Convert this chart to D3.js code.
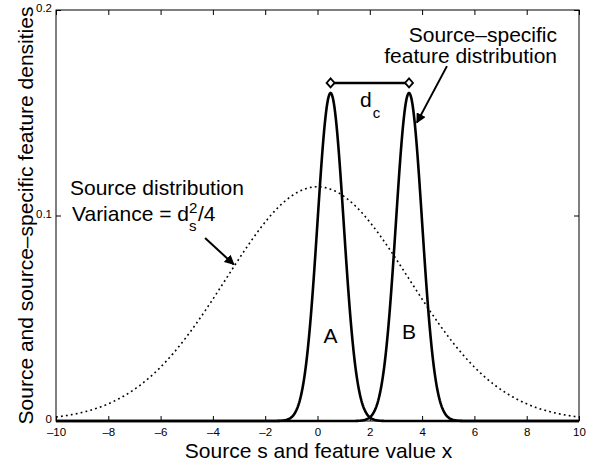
<!DOCTYPE html>
<html>
<head>
<meta charset="utf-8">
<script src="https://cdn.jsdelivr.net/npm/d3@7"></script>
<style>
  body { margin: 0; background: #fff; }
  text { font-family: "Liberation Sans", Arial, Helvetica, sans-serif; fill: #000; }
  .tick text { font-size: 11.5px; }
</style>
</head>
<body>
<div id="chart"></div>
<script>
// axis ranges and ticks
const xDomain = [-10, 10];
const yDomain = [0, 0.2];
const xTicks = [-10, -8, -6, -4, -2, 0, 2, 4, 6, 8, 10];
const yTicks = [0, 0.1, 0.2];

// source distribution (mean, sd)
const sourceMean = [0];
const sourceSd = [3.5];

// source-specific feature distributions A and B
const featureNames = ["A", "B"];
const featureMeans = [0.5, 3.5];
const featureSds = [0.5, 0.5];
const featureWeight = [0.2, 0.2];

const width = 607,
  height = 466;
const plot = { left: 56, right: 579, top: 10, bottom: 421 };

const svg = d3
  .select("#chart")
  .append("svg")
  .attr("width", width)
  .attr("height", height);

const x = d3.scaleLinear().domain(xDomain).range([plot.left, plot.right]);
const y = d3.scaleLinear().domain(yDomain).range([plot.bottom, plot.top]);

const dash = (v) => String(v).replace("-", "\u2013");

// sample grid for the density curves
const grid = d3.range(0, 801).map((i) => xDomain[0] + (i * (xDomain[1] - xDomain[0])) / 800);
const normal = (v, m, s) => Math.exp(-((v - m) ** 2) / (2 * s * s)) / (Math.sqrt(2 * Math.PI) * s);

const line = d3
  .line()
  .x((d) => x(d[0]))
  .y((d) => y(d[1]));

// box + ticks (inward, matlab style)
svg
  .append("g")
  .attr("transform", `translate(0,${plot.bottom})`)
  .call(d3.axisBottom(x).tickValues(xTicks).tickSizeInner(-5).tickSizeOuter(0).tickPadding(7).tickFormat(dash))
  .call((g) => g.select(".domain").remove());

svg
  .append("g")
  .attr("transform", `translate(0,${plot.top})`)
  .call(d3.axisTop(x).tickValues(xTicks).tickSizeInner(-5).tickSizeOuter(0).tickFormat(""))
  .call((g) => g.select(".domain").remove());

svg
  .append("g")
  .attr("transform", `translate(${plot.left},0)`)
  .call(d3.axisLeft(y).tickValues(yTicks).tickSizeInner(-5).tickSizeOuter(0).tickPadding(4).tickFormat((d) => String(d)))
  .call((g) => g.select(".domain").remove())
  .call((g) => g.selectAll(".tick text").attr("dy", "0.15em"));

svg
  .append("g")
  .attr("transform", `translate(${plot.right},0)`)
  .call(d3.axisRight(y).tickValues(yTicks).tickSizeInner(-5).tickSizeOuter(0).tickFormat(""))
  .call((g) => g.select(".domain").remove());

svg.selectAll(".tick line").attr("stroke", "#000");

// source distribution, dotted
svg
  .append("path")
  .datum(grid.map((v) => [v, normal(v, sourceMean[0], sourceSd[0])]))
  .attr("d", line)
  .attr("fill", "none")
  .attr("stroke", "#000")
  .attr("stroke-width", 1.6)
  .attr("stroke-dasharray", "1.8,3.2");

// feature distributions, solid thick
svg
  .selectAll("path.feature")
  .data(featureMeans)
  .join("path")
  .attr("class", "feature")
  .attr("d", (m, i) => line(grid.map((v) => [v, featureWeight[i] * normal(v, m, featureSds[i])])))
  .attr("fill", "none")
  .attr("stroke", "#000")
  .attr("stroke-width", 2.6);

svg
  .append("rect")
  .attr("x", plot.left)
  .attr("y", plot.top)
  .attr("width", plot.right - plot.left)
  .attr("height", plot.bottom - plot.top)
  .attr("fill", "none")
  .attr("stroke", "#000")
  .attr("stroke-width", 1);

// d_c bracket between the two feature means
const bracketY = 0.1645;
svg
  .append("line")
  .attr("x1", x(featureMeans[0]))
  .attr("x2", x(featureMeans[1]))
  .attr("y1", y(bracketY))
  .attr("y2", y(bracketY))
  .attr("stroke", "#000")
  .attr("stroke-width", 2.4);

svg
  .selectAll("path.diamond")
  .data(featureMeans)
  .join("path")
  .attr("class", "diamond")
  .attr("d", "M0,-4.5L4,0L0,4.5L-4,0Z")
  .attr("transform", (m) => `translate(${x(m)},${y(bracketY)})`)
  .attr("fill", "#fff")
  .attr("stroke", "#000")
  .attr("stroke-width", 1.8);

// arrows
svg
  .append("defs")
  .append("marker")
  .attr("id", "head")
  .attr("viewBox", "0 0 10 10")
  .attr("refX", 9)
  .attr("refY", 5)
  .attr("markerWidth", 5)
  .attr("markerHeight", 5)
  .attr("markerUnits", "strokeWidth")
  .attr("orient", "auto")
  .append("path")
  .attr("d", "M0,0L10,5L0,10Z")
  .attr("fill", "#000");

const arrows = [
  [[-4.3, 0.089], [-3.2, 0.0762]],
  [[4.95, 0.1727], [3.8, 0.1452]],
];
svg
  .selectAll("line.arrow")
  .data(arrows)
  .join("line")
  .attr("class", "arrow")
  .attr("x1", (d) => x(d[0][0]))
  .attr("y1", (d) => y(d[0][1]))
  .attr("x2", (d) => x(d[1][0]))
  .attr("y2", (d) => y(d[1][1]))
  .attr("stroke", "#000")
  .attr("stroke-width", 2)
  .attr("marker-end", "url(#head)");

// text annotations
const fs = 21;
const label = (px, py, str, size, anchor) =>
  svg
    .append("text")
    .attr("x", px)
    .attr("y", py)
    .attr("font-size", size)
    .attr("text-anchor", anchor || "start")
    .text(str);

label(70, 195, "Source distribution", fs);
const v = label(72, 221, "Variance = d", fs);
const vEnd = 72 + v.node().getComputedTextLength();
label(vEnd, 213, "2", 15);
label(vEnd, 231, "s", 15);
label(vEnd + 9, 221, "/4", fs);

label(557, 42, "Source\u2013specific", fs, "end");
label(557, 63, "feature distribution", fs, "end");

const dc = label(360, 107, "d", fs);
label(360 + dc.node().getComputedTextLength() + 1, 118, "c", 15);

svg
  .selectAll("text.name")
  .data(featureNames)
  .join("text")
  .attr("class", "name")
  .attr("x", (d, i) => x(featureMeans[i]))
  .attr("y", (d, i) => (i === 0 ? 343 : 339))
  .attr("font-size", fs)
  .attr("text-anchor", "middle")
  .text((d) => d);

// axis titles
svg
  .append("text")
  .attr("x", (plot.left + plot.right) / 2 + 1)
  .attr("y", 458)
  .attr("font-size", fs)
  .attr("text-anchor", "middle")
  .text("Source s and feature value x");

svg
  .append("text")
  .attr("transform", `translate(33,${(plot.top + plot.bottom) / 2}) rotate(-90)`)
  .attr("font-size", fs)
  .attr("text-anchor", "middle")
  .text("Source and source\u2013specific feature densities");
</script>
</body>
</html>
